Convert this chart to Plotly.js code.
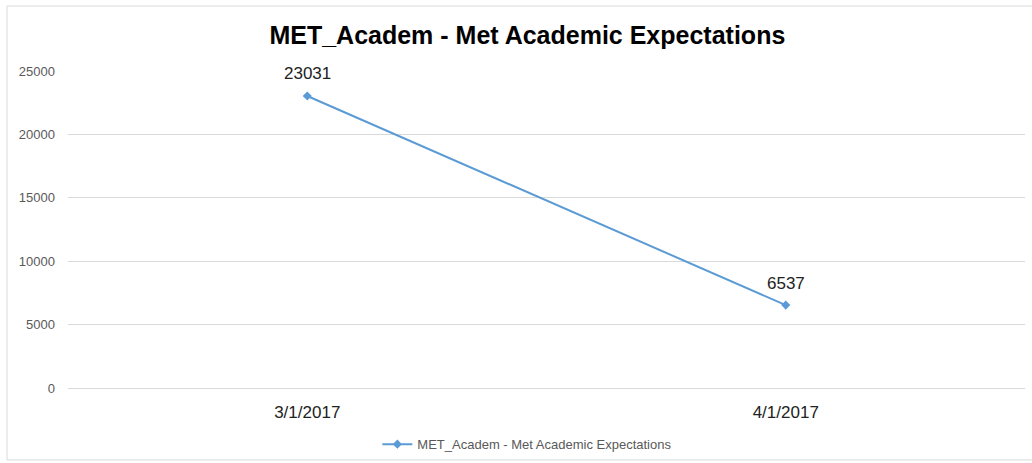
<!DOCTYPE html>
<html>
<head>
<meta charset="utf-8">
<script src="https://cdn.plot.ly/plotly-3.0.1.min.js"></script>
<style>html,body{margin:0;padding:0;background:#fff;}#chart{width:1032px;height:463px;}</style>
</head>
<body>
<div id="chart"></div>
<script>
const categories = ["3/1/2017", "4/1/2017"];
const values = [23031, 6537];
const seriesName = "MET_Academ - Met Academic Expectations";
const yTicks = [0, 5000, 10000, 15000, 20000, 25000];

const FONT = "Liberation Sans, Arial, sans-serif";

const trace = {
  x: categories,
  y: values,
  type: "scatter",
  mode: "lines+markers",
  name: seriesName,
  line: {color: "#5B9BD5", width: 2},
  marker: {symbol: "diamond", size: 7, color: "#5B9BD5"},
  cliponaxis: false
};

const labels = categories.map((c, i) => ({
  x: c, y: values[i], xref: "x", yref: "y",
  text: String(values[i]), showarrow: false,
  yshift: 22, font: {family: FONT, size: 17, color: "#222"}
}));

const layout = {
  width: 1032, height: 463,
  margin: {l: 68, r: 7, t: 71, b: 75, autoexpand: false},
  paper_bgcolor: "#fff", plot_bgcolor: "#fff",
  font: {family: FONT},
  title: {
    text: "<b>MET_Academ - Met Academic Expectations</b>",
    font: {family: FONT, size: 25, color: "#000"},
    x: 0.48, xref: "paper", xanchor: "center",
    y: 36, yref: "container", yanchor: "middle"
  },
  xaxis: {
    type: "category", range: [-0.5, 1.5], automargin: false,
    showgrid: false, zeroline: false, showline: false,
    ticks: "", tickfont: {size: 17, color: "#222"}, ticklabelstandoff: 12
  },
  yaxis: {
    range: [0, 25000], tickvals: yTicks, ticktext: yTicks.map(String), automargin: false,
    showgrid: true, gridcolor: "#d9d9d9", gridwidth: 1,
    zeroline: true, zerolinecolor: "#d9d9d9", zerolinewidth: 1,
    showline: false, ticks: "",
    tickfont: {size: 13, color: "#595959"}, ticklabelstandoff: 12
  },
  showlegend: true,
  legend: {
    orientation: "h", x: 0.48, xanchor: "center", y: -0.13, yanchor: "top",
    bgcolor: "rgba(0,0,0,0)",
    font: {size: 13, color: "#595959"}
  },
  annotations: labels,
  shapes: [{
    type: "rect", xref: "paper", yref: "paper",
    x0: -61/957, x1: 1003/957, y0: -72/317, y1: 1 + 65/317,
    line: {color: "#d9d9d9", width: 1}, fillcolor: "rgba(0,0,0,0)", layer: "below"
  }]
};

Plotly.newPlot("chart", [trace], layout, {displayModeBar: false, staticPlot: true});
</script>
</body>
</html>
